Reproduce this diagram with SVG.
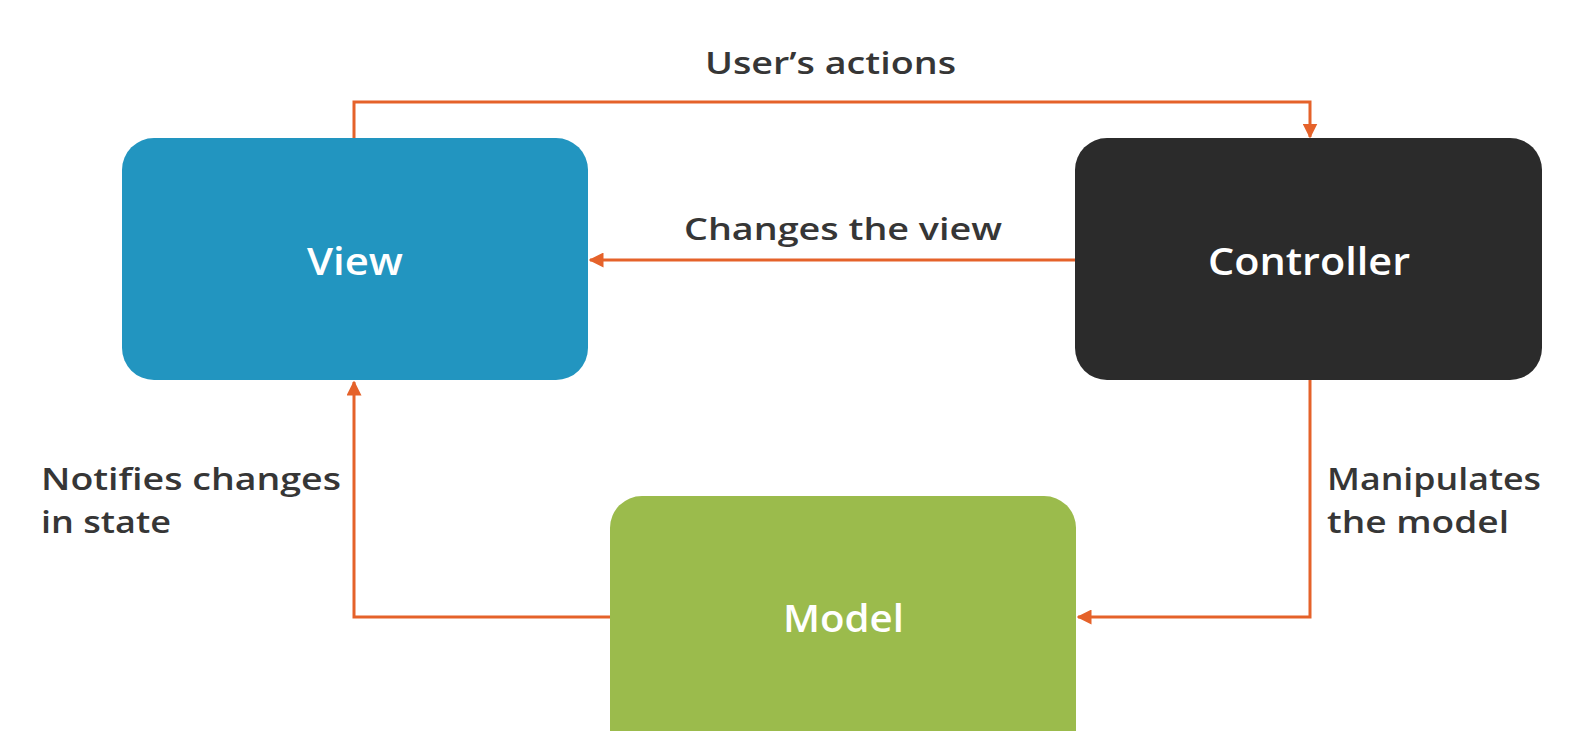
<svg xmlns="http://www.w3.org/2000/svg" width="1595" height="731" viewBox="0 0 1595 731">
<defs>
<style>
.lbl{font-family:"Open Sans","Liberation Sans",sans-serif;font-weight:600;font-size:31px;fill:#363636}
.node-text{font-family:"Open Sans","Liberation Sans",sans-serif;font-weight:600;font-size:38px;fill:#ffffff;dominant-baseline:central}
.conn{fill:none;stroke:#E5622A;stroke-width:3}
</style>
<marker id="arr" viewBox="0 0 10 10" refX="9" refY="5" markerWidth="5" markerHeight="5" orient="auto" markerUnits="strokeWidth">
<path d="M0,0 L10,5 L0,10 z" fill="#E5622A"/>
</marker>
</defs>
<rect width="1595" height="731" fill="#ffffff"/>
<g id="connectors">
<path class="conn" d="M354,138 V102 H1310 V137" marker-end="url(#arr)"/>
<path class="conn" d="M1075,260 H590" marker-end="url(#arr)"/>
<path class="conn" d="M1310,380 V617 H1078" marker-end="url(#arr)"/>
<path class="conn" d="M610,617 H354 V382" marker-end="url(#arr)"/>
</g>
<g id="node-view">
<rect x="122" y="138" width="466" height="242" rx="32" fill="#2295C0"/>
<text class="node-text" x="307" y="260" textLength="96" lengthAdjust="spacingAndGlyphs">View</text>
</g>
<g id="node-controller">
<rect x="1075" y="138" width="467" height="242" rx="32" fill="#2B2B2B"/>
<text class="node-text" x="1208" y="260" textLength="202" lengthAdjust="spacingAndGlyphs">Controller</text>
</g>
<g id="node-model">
<rect x="610" y="496" width="466" height="270" rx="32" fill="#9BBB4C"/>
<text class="node-text" x="783" y="617" textLength="121" lengthAdjust="spacingAndGlyphs">Model</text>
</g>
<g id="labels">
<text class="lbl" x="705" y="74" textLength="251" lengthAdjust="spacingAndGlyphs">User’s actions</text>
<text class="lbl" x="684" y="240" textLength="318" lengthAdjust="spacingAndGlyphs">Changes the view</text>
<text class="lbl" x="41" y="490" textLength="300" lengthAdjust="spacingAndGlyphs">Notifies changes</text>
<text class="lbl" x="41" y="533" textLength="130" lengthAdjust="spacingAndGlyphs">in state</text>
<text class="lbl" x="1327" y="490" textLength="214" lengthAdjust="spacingAndGlyphs">Manipulates</text>
<text class="lbl" x="1327" y="533" textLength="182" lengthAdjust="spacingAndGlyphs">the model</text>
</g>
</svg>
